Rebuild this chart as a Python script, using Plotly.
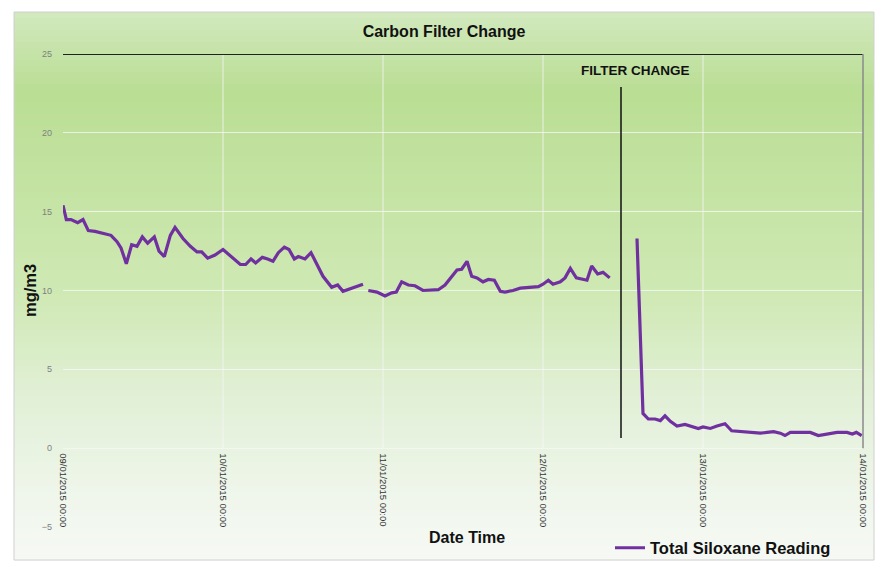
import plotly.graph_objects as go
import pandas as pd

# ---------------- data ----------------
START = "2015-01-09 00:00"
# hours after START (None in values = gap in the record)
hours = [
    0.0, 0.5, 1.2, 1.7, 2.2, 3.0, 3.8, 4.8, 6.3, 7.2, 8.1, 8.7, 9.5, 10.3, 11.1,
    11.9, 12.7, 13.7, 14.4, 15.2, 16.1, 16.8, 18.0, 19.1, 20.1, 20.8, 21.7, 22.8,
    24.0, 25.3, 26.6, 27.4, 28.2, 28.9, 29.9, 30.7, 31.5, 32.3, 33.2, 33.9, 34.7,
    35.3, 36.3, 37.2, 38.1, 39.0, 40.3, 41.2, 42.0, 43.1, 44.1, 45.0,
    45.4,
    45.8, 47.1, 48.3, 49.3, 50.0, 50.8, 51.8, 52.8, 54.0, 55.1, 56.3, 57.3, 58.1,
    59.1, 59.8, 60.6, 61.3, 62.1, 63.0, 63.8, 64.7, 65.6, 66.3, 67.5, 68.6, 69.8,
    71.3, 72.0, 72.8, 73.5, 74.6, 75.3, 76.1, 77.0, 77.8, 78.6, 79.3, 80.2, 81.0,
    82.0,
    84.0,
    86.1, 86.7, 87.0, 87.8, 88.8, 89.6, 90.3, 91.1, 92.1, 93.3, 94.3, 95.3, 96.0,
    97.1, 98.1, 99.3, 100.3, 101.6, 103.1, 104.6, 105.6, 106.6, 107.6, 108.3,
    109.1, 110.6, 112.1, 113.3, 114.6, 116.1, 117.6, 118.4, 119.0, 119.8,
]
siloxane = [
    15.4, 14.5, 14.5, 14.4, 14.3, 14.5, 13.8, 13.75, 13.6, 13.5, 13.1, 12.7, 11.7,
    12.9, 12.8, 13.4, 13.0, 13.4, 12.5, 12.15, 13.5, 14.0, 13.3, 12.8, 12.45,
    12.45, 12.05, 12.25, 12.6, 12.1, 11.65, 11.65, 12.0, 11.75, 12.1, 12.0, 11.85,
    12.4, 12.75, 12.6, 12.0, 12.15, 12.0, 12.4, 11.65, 10.9, 10.2, 10.35, 9.95,
    10.1, 10.25, 10.4,
    None,
    10.0, 9.9, 9.65, 9.85, 9.9, 10.55, 10.35, 10.3, 10.0, 10.0, 10.05, 10.35, 10.8,
    11.3, 11.35, 11.85, 10.9, 10.8, 10.55, 10.7, 10.65, 9.95, 9.9, 10.0, 10.15,
    10.2, 10.25, 10.4, 10.65, 10.4, 10.55, 10.8, 11.4, 10.8, 10.7, 10.65, 11.55,
    11.05, 11.15, 10.8,
    None,
    13.3, 6.65, 2.2, 1.85, 1.85, 1.75, 2.05, 1.7, 1.4, 1.5, 1.4, 1.25, 1.35, 1.25,
    1.4, 1.55, 1.1, 1.05, 1.0, 0.95, 1.0, 1.05, 0.95, 0.8, 1.0, 1.0, 1.0, 0.8, 0.9,
    1.0, 1.0, 0.9, 1.0, 0.8,
]
FILTER_CHANGE_TIME = "2015-01-12 11:42"
FILTER_LINE_Y = [0.65, 22.9]
X_RANGE = ["2015-01-09 00:00", "2015-01-14 00:00"]
Y_TICKS = [-5, 0, 5, 10, 15, 20, 25]

TITLE = "Carbon Filter Change"
SERIES_NAME = "Total Siloxane Reading"
X_TITLE = "Date Time"
Y_TITLE = "mg/m3"
ANNOT = "FILTER CHANGE"

times = pd.Timestamp(START) + pd.to_timedelta(hours, unit="h")
day_ticks = pd.date_range(X_RANGE[0], X_RANGE[1], freq="D")

# ---------------- geometry helpers (figure pixels -> paper) ----------------
W, H = 882, 567
L, R, T, B = 63, 19, 54, 40
PW, PH = W - L - R, H - T - B


def px(x):
    return (x - L) / PW


def py(y):
    return (H - B - y) / PH


FONT = "Liberation Sans, Arial, sans-serif"
grid = "rgba(246,246,246,0.8)"

fig = go.Figure()
fig.add_trace(go.Scatter(
    x=times, y=siloxane, mode="lines", name=SERIES_NAME,
    line=dict(color="#7030a0", width=3.2), connectgaps=False,
))

shapes = []
# gradient background of the chart area
stops = [
    (12, (210, 233, 190)),
    (90, (186, 222, 148)),
    (200, (197, 228, 165)),
    (300, (208, 233, 182)),
    (400, (226, 240, 215)),
    (500, (240, 246, 236)),
    (560, (246, 249, 244)),
]


def col_at(y):
    for (y0, c0), (y1, c1) in zip(stops[:-1], stops[1:]):
        if y0 <= y <= y1:
            t = (y - y0) / (y1 - y0)
            return tuple(round(a + (b - a) * t) for a, b in zip(c0, c1))
    return stops[-1][1]


band = 6
yy = 12
while yy < 560:
    y2 = min(yy + band, 560)
    c = col_at((yy + y2) / 2)
    shapes.append(dict(
        type="rect", xref="paper", yref="paper", layer="below",
        x0=px(14), x1=px(874), y0=py(y2 + 0.5), y1=py(yy),
        fillcolor="rgb(%d,%d,%d)" % c, line=dict(width=0),
    ))
    yy = y2
# chart box border
shapes.append(dict(
    type="rect", xref="paper", yref="paper", layer="below",
    x0=px(14), x1=px(874), y0=py(560), y1=py(12),
    fillcolor="rgba(0,0,0,0)", line=dict(color="#d0d0d0", width=1),
))
# vertical day gridlines (from 0 up to 25, interior days only)
for d in day_ticks[1:-1]:
    shapes.append(dict(
        type="line", xref="x", yref="y", layer="below",
        x0=d, x1=d, y0=0, y1=25, line=dict(color=grid, width=1),
    ))
# top line at 25
shapes.append(dict(
    type="line", xref="paper", yref="y", x0=0, x1=1, y0=25, y1=25,
    line=dict(color="#222222", width=2),
))
# right edge line
shapes.append(dict(
    type="line", xref="paper", yref="y", x0=1, x1=1, y0=0, y1=25,
    line=dict(color="#8a8a8a", width=1.5),
))
# filter change marker
shapes.append(dict(
    type="line", xref="x", yref="y",
    x0=FILTER_CHANGE_TIME, x1=FILTER_CHANGE_TIME,
    y0=FILTER_LINE_Y[0], y1=FILTER_LINE_Y[1],
    line=dict(color="#111111", width=1.5),
))

annotations = [
    dict(text="<b>%s</b>" % ANNOT, xref="paper", yref="paper",
         x=px(635), y=py(71), showarrow=False,
         xanchor="center", yanchor="middle",
         font=dict(family=FONT, size=13.5, color="#111111")),
    dict(text="<b>%s</b>" % X_TITLE, xref="paper", yref="paper",
         x=px(467), y=py(537), showarrow=False,
         xanchor="center", yanchor="middle",
         font=dict(family=FONT, size=16, color="#111111")),
    dict(text="<b>%s</b>" % Y_TITLE, xref="paper", yref="paper",
         x=px(30), y=py(291), showarrow=False, textangle=-90,
         xanchor="center", yanchor="middle",
         font=dict(family=FONT, size=16.5, color="#111111")),
]

fig.update_layout(
    width=W, height=H,
    margin=dict(l=L, r=R, t=T, b=B, autoexpand=False),
    paper_bgcolor="white", plot_bgcolor="rgba(0,0,0,0)",
    title=dict(text="<b>%s</b>" % TITLE, xref="container", x=444 / W,
               xanchor="center", y=1 - 31 / H, yanchor="middle",
               font=dict(family=FONT, size=16, color="#111111")),
    font=dict(family=FONT),
    shapes=shapes,
    annotations=annotations,
    showlegend=True,
    legend=dict(x=px(610), y=py(548), xanchor="left", yanchor="middle",
                bgcolor="rgba(0,0,0,0)",
                font=dict(family=FONT, size=16.5, color="#111111", weight="bold"),
                itemwidth=30),
    xaxis=dict(
        type="date", range=X_RANGE, anchor="free", position=py(448.3),
        tickmode="linear", tick0=X_RANGE[0], dtick=86400000,
        tickformat="%d/%m/%Y %H:%M", tickangle=90,
        tickfont=dict(family=FONT, size=9.5, color="#333333"),
        ticklabelstandoff=4,
        showgrid=False,
        showline=False, zeroline=False, automargin=False,
    ),
    yaxis=dict(
        range=[-5, 25], tickvals=Y_TICKS,
        tickfont=dict(family=FONT, size=9, color="#808080"),
        ticklabelstandoff=10,
        showgrid=True, gridcolor=grid, gridwidth=1,
        showline=False, zeroline=False, automargin=False,
    ),
)

fig.write_html("out.html", config={"displayModeBar": False},
               post_script="document.body.style.margin='0px';")
